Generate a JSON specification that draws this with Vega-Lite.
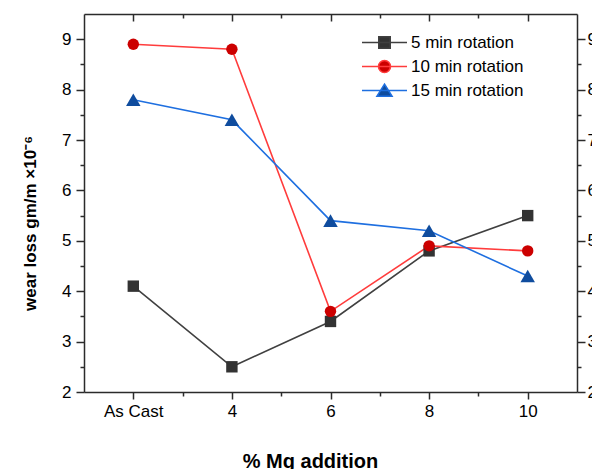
{
  "$schema": "https://vega.github.io/schema/vega-lite/v6.json",
  "width": 493,
  "height": 378,
  "autosize": {"type": "none"},
  "padding": {"left": 84, "top": 14, "right": 20, "bottom": 77},
  "background": "white",
  "config": {
    "view": {"stroke": null},
    "font": "Liberation Sans",
    "axis": {
      "domainColor": "#2b2b2b",
      "domainWidth": 1.5,
      "tickColor": "#2b2b2b",
      "tickWidth": 1.5,
      "grid": false,
      "labelFont": "Liberation Sans",
      "labelFontSize": 17,
      "labelColor": "#000000",
      "titleFont": "Liberation Sans",
      "titleFontSize": 18,
      "titleFontWeight": "bold",
      "titleColor": "#000000"
    }
  },
  "data": {
    "values": [
      {"mg": 2, "wear": 4.1, "series": "5 min rotation"},
      {"mg": 4, "wear": 2.5, "series": "5 min rotation"},
      {"mg": 6, "wear": 3.4, "series": "5 min rotation"},
      {"mg": 8, "wear": 4.8, "series": "5 min rotation"},
      {"mg": 10, "wear": 5.5, "series": "5 min rotation"},
      {"mg": 2, "wear": 8.9, "series": "10 min rotation"},
      {"mg": 4, "wear": 8.8, "series": "10 min rotation"},
      {"mg": 6, "wear": 3.6, "series": "10 min rotation"},
      {"mg": 8, "wear": 4.9, "series": "10 min rotation"},
      {"mg": 10, "wear": 4.8, "series": "10 min rotation"},
      {"mg": 2, "wear": 7.8, "series": "15 min rotation"},
      {"mg": 4, "wear": 7.4, "series": "15 min rotation"},
      {"mg": 6, "wear": 5.4, "series": "15 min rotation"},
      {"mg": 8, "wear": 5.2, "series": "15 min rotation"},
      {"mg": 10, "wear": 4.3, "series": "15 min rotation"}
    ]
  },
  "layer": [
    {
      "mark": {"type": "line", "strokeWidth": 1.6},
      "encoding": {
        "x": {
          "field": "mg", "type": "quantitative",
          "scale": {"domain": [1, 11], "nice": false, "zero": false},
          "axis": {
            "orient": "bottom",
            "values": [2, 3, 4, 5, 6, 7, 8, 9, 10],
            "labelExpr": "datum.value == 2 ? 'As Cast' : (datum.value % 2 == 0 ? datum.label : '')",
            "tickSize": {"condition": {"test": "datum.value % 2 == 1", "value": 4}, "value": 7},
            "labelPadding": 4,
            "title": "% Mg addition",
            "titleFontSize": 20,
            "titleX": 226,
            "titlePadding": 32
          }
        },
        "y": {
          "field": "wear", "type": "quantitative",
          "scale": {"domain": [2, 9.5], "nice": false, "zero": false},
          "axis": {
            "orient": "left",
            "values": [2, 2.5, 3, 3.5, 4, 4.5, 5, 5.5, 6, 6.5, 7, 7.5, 8, 8.5, 9],
            "labelExpr": "datum.value % 1 == 0 ? format(datum.value, 'd') : ''",
            "tickSize": {"condition": {"test": "datum.value % 1 != 0", "value": 4}, "value": 8},
            "labelPadding": 5,
            "title": "wear loss gm/m ×10⁻⁶",
            "titleFontSize": 17,
            "titleY": 209,
            "titlePadding": 22
          }
        },
        "color": {
          "field": "series", "type": "nominal",
          "scale": {
            "domain": ["5 min rotation", "10 min rotation", "15 min rotation"],
            "range": ["#404040", "#ff3c3c", "#1e6fe0"]
          },
          "legend": {
            "orient": "none",
            "legendX": 292,
            "legendY": 20,
            "title": null,
            "padding": 0,
            "symbolSize": 144,
            "symbolStrokeWidth": 1.6,
            "labelFontSize": 17,
            "labelFont": "Liberation Sans",
            "labelColor": "#000000",
            "labelOffset": 18,
            "rowPadding": 5,
            "encode": {
              "symbols": {
                "update": {
                  "shape": {"signal": "datum.value === '5 min rotation' ? 'M-3.75,0H3.75M-0.95,-0.95H0.95V0.95H-0.95Z' : datum.value === '10 min rotation' ? 'M-3.75,0H3.75M-1,0A1,1,0,1,0,1,0A1,1,0,1,0,-1,0Z' : 'M-3.75,0H3.75M0,-1.05L1.25,0.95H-1.25Z'"},
                  "fill": {"signal": "datum.value === '5 min rotation' ? '#333333' : datum.value === '10 min rotation' ? '#cc0000' : '#0f4c9e'"}
                }
              }
            }
          }
        }
      }
    },
    {
      "mark": {"type": "point", "filled": true, "opacity": 1},
      "encoding": {
        "x": {
          "field": "mg", "type": "quantitative",
          "scale": {"domain": [1, 11], "nice": false, "zero": false},
          "axis": {
            "orient": "top",
            "values": [2, 3, 4, 5, 6, 7, 8, 9, 10],
            "labels": false,
            "tickSize": {"condition": {"test": "datum.value % 2 == 1", "value": -4}, "value": -7},
            "title": null
          }
        },
        "y": {
          "field": "wear", "type": "quantitative",
          "scale": {"domain": [2, 9.5], "nice": false, "zero": false},
          "axis": {
            "orient": "right",
            "values": [2, 2.5, 3, 3.5, 4, 4.5, 5, 5.5, 6, 6.5, 7, 7.5, 8, 8.5, 9],
            "labelExpr": "datum.value % 1 == 0 ? format(datum.value, 'd') : ''",
            "tickSize": {"condition": {"test": "datum.value % 1 != 0", "value": 4}, "value": 8},
            "labelPadding": 2,
            "title": null
          }
        },
        "color": {
          "field": "series", "type": "nominal",
          "scale": {
            "domain": ["5 min rotation", "10 min rotation", "15 min rotation"],
            "range": ["#333333", "#cc0000", "#0f4c9e"]
          },
          "legend": null
        },
        "shape": {
          "field": "series", "type": "nominal",
          "scale": {
            "domain": ["5 min rotation", "10 min rotation", "15 min rotation"],
            "range": ["square", "circle", "triangle-up"]
          },
          "legend": null
        },
        "size": {
          "condition": {"test": "datum.series === '15 min rotation'", "value": 210},
          "value": 130
        }
      }
    }
  ],
  "resolve": {
    "scale": {"color": "independent", "shape": "independent"},
    "axis": {"x": "independent", "y": "independent"}
  }
}
